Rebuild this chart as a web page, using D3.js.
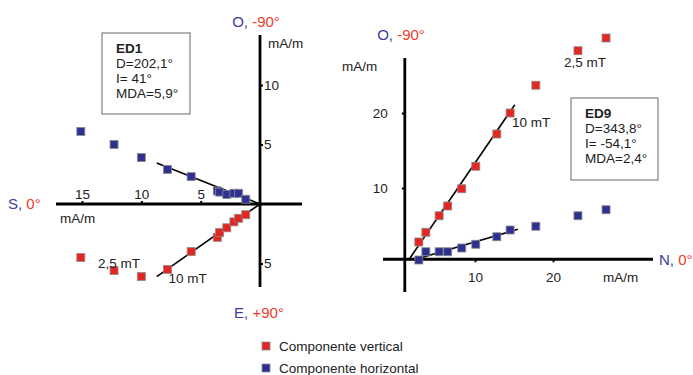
<!DOCTYPE html>
<html>
<head>
<meta charset="utf-8">
<script src="https://cdn.jsdelivr.net/npm/d3@7"></script>
<style>
  body { margin: 0; background: #fff; }
  text { font-family: "Liberation Sans", Arial, sans-serif; }
</style>
</head>
<body>
<script>
// ED1 (left diagram), N-S component (S positive) in mA/m
var ed1X = [15.1, 12.3, 10.0, 7.8, 5.8, 3.6, 3.4, 2.8, 2.2, 1.8, 1.2];
var ed1Horiz = [6.1, 5.0, 3.9, 2.9, 2.3, 1.1, 1.0, 0.8, 0.9, 0.9, 0.4];
var ed1Vert = [-4.5, -5.6, -6.1, -5.5, -4.0, -2.8, -2.4, -2.0, -1.5, -1.2, -0.9];
var ed1FitH = [[0, 0], [8.7, 3.45]];
var ed1FitV = [[0, 0], [8.7, -6.1]];
var ed1Info = ["ED1", "D=202,1°", "I= 41°", "MDA=5,9°"];

// ED9 (right diagram)
var ed9X = [2.8, 3.7, 5.4, 6.5, 8.3, 10.1, 12.8, 14.5, 17.8, 23.2, 26.8];
var ed9Vert = [2.8, 4.1, 6.3, 7.6, 9.9, 12.9, 17.2, 20.0, 23.7, 28.3, 30.0];
var ed9Horiz = [0.4, 1.5, 1.5, 1.5, 2.0, 2.5, 3.5, 4.4, 4.9, 6.3, 7.1];
var ed9FitV = [[1.5, 0.4], [15.1, 21.1]];
var ed9FitH = [[2.1, 0.4], [15.5, 4.5]];
var ed9Info = ["ED9", "D=343,8°", "I= -54,1°", "MDA=2,4°"];

var legendLabels = ["Componente vertical", "Componente horizontal"];

var RED = "#e52521", BLUE = "#2f3192", TXT_BLUE = "#3c3ca0", TXT_RED = "#ee3b2e";

var svg = d3.select("body").append("svg")
    .attr("width", 693)
    .attr("height", 375);

var line = d3.line();

function square(g, pts, color) {
  g.selectAll(null)
    .data(pts)
    .enter()
    .append("rect")
    .attr("x", function(d) { return d[0] - 4; })
    .attr("y", function(d) { return d[1] - 4; })
    .attr("width", 8)
    .attr("height", 8)
    .attr("fill", color)
    .attr("stroke", "#8a8a8a")
    .attr("stroke-width", 0.8);
}

function fitLine(g, pts, xs, ys) {
  g.append("path")
    .attr("d", line(pts.map(function(d) { return [xs(d[0]), ys(d[1])]; })))
    .attr("stroke", "#000").attr("stroke-width", 1.6).attr("fill", "none");
}

function infoBox(x, y, w, h, lines) {
  svg.append("rect")
    .attr("x", x).attr("y", y).attr("width", w).attr("height", h)
    .attr("fill", "#fff").attr("stroke", "#808080").attr("stroke-width", 1.2);
  svg.selectAll(null)
    .data(lines)
    .enter()
    .append("text")
    .attr("x", x + 14)
    .attr("y", function(d, i) { return y + 20 + i * 15; })
    .attr("font-size", 13.5)
    .attr("font-weight", function(d, i) { return i == 0 ? "bold" : "normal"; })
    .attr("fill", "#222")
    .text(function(d) { return d; });
}

function label(x, y, s) {
  svg.append("text").attr("x", x).attr("y", y)
    .attr("font-size", 13.5).attr("fill", "#222").text(s);
}

function dirLabel(x, y, a, b, anchor) {
  var t = svg.append("text")
    .attr("x", x).attr("y", y)
    .attr("font-size", 15)
    .attr("text-anchor", anchor || "start");
  t.append("tspan").attr("fill", TXT_BLUE).text(a);
  t.append("tspan").attr("fill", TXT_RED).text(b);
}

function styleAxis(a) {
  a.select(".domain").remove();
  a.selectAll("line").attr("stroke", "#000").attr("stroke-width", 2);
  a.selectAll("text").attr("font-size", 13.5).attr("fill", "#222")
    .style("font-family", "Liberation Sans, Arial, sans-serif");
}

// ---------- left diagram ----------
var xL = d3.scaleLinear().domain([0, 15]).range([260, 82]);
var yL = d3.scaleLinear().domain([0, 10]).range([204, 85]);
var left = svg.append("g");

fitLine(left, ed1FitH, xL, yL);
fitLine(left, ed1FitV, xL, yL);

left.append("line").attr("x1", 56).attr("x2", 302).attr("y1", yL(0)).attr("y2", yL(0))
  .attr("stroke", "#000").attr("stroke-width", 2.8);
left.append("line").attr("x1", xL(0)).attr("x2", xL(0)).attr("y1", 35).attr("y2", 287)
  .attr("stroke", "#000").attr("stroke-width", 2.8);

var axL1 = left.append("g").attr("transform", "translate(0," + yL(0) + ")")
  .call(d3.axisTop(xL).tickValues([5, 10, 15]).tickSize(3).tickPadding(2));
var axL2 = left.append("g").attr("transform", "translate(" + xL(0) + ",0)")
  .call(d3.axisRight(yL).tickValues([-5, 5, 10]).tickSize(3).tickPadding(1)
    .tickFormat(function(d) { return Math.abs(d); }));
styleAxis(axL1);
styleAxis(axL2);

square(left, ed1X.map(function(d, i) { return [xL(d), yL(ed1Horiz[i])]; }), BLUE);
square(left, ed1X.map(function(d, i) { return [xL(d), yL(ed1Vert[i])]; }), RED);

label(60, 223, "mA/m");
label(268, 48, "mA/m");
label(xL(ed1X[1]) - 16, yL(ed1Vert[0]) + 10, "2,5 mT");
label(xL(ed1X[3]) + 1, yL(ed1Vert[3]) + 14, "10 mT");

dirLabel(256, 27, "O, ", "-90°", "middle");
dirLabel(8, 209, "S, ", "0°");
dirLabel(259, 318, "E, ", "+90°", "middle");

infoBox(102, 33, 88, 81, ed1Info);

// ---------- right diagram ----------
var xR = d3.scaleLinear().domain([0, 20]).range([397, 553]);
var yR = d3.scaleLinear().domain([0, 20]).range([263, 113]);
var right = svg.append("g");
var ax0 = xR(1), ay0 = yR(0.5);

fitLine(right, ed9FitV, xR, yR);
fitLine(right, ed9FitH, xR, yR);

right.append("line").attr("x1", 383).attr("x2", 653).attr("y1", ay0).attr("y2", ay0)
  .attr("stroke", "#000").attr("stroke-width", 2.8);
right.append("line").attr("x1", ax0).attr("x2", ax0).attr("y1", 58).attr("y2", 292)
  .attr("stroke", "#000").attr("stroke-width", 2.8);

var axR1 = right.append("g").attr("transform", "translate(0," + ay0 + ")")
  .call(d3.axisBottom(xR).tickValues([10, 20]).tickSize(3).tickPadding(10));
var axR2 = right.append("g").attr("transform", "translate(" + ax0 + ",0)")
  .call(d3.axisLeft(yR).tickValues([10, 20]).tickSize(3).tickPadding(14));
styleAxis(axR1);
styleAxis(axR2);
axR2.selectAll("line").attr("x2", 0).attr("x1", -3);

square(right, ed9X.map(function(d, i) { return [xR(d), yR(ed9Horiz[i])]; }), BLUE);
square(right, ed9X.map(function(d, i) { return [xR(d), yR(ed9Vert[i])]; }), RED);

label(342, 71, "mA/m");
label(603, 282, "mA/m");
label(xR(ed9X[9]) - 14, yR(ed9Vert[9]) + 16, "2,5 mT");
label(xR(ed9X[7]) + 2, yR(ed9Vert[7]) + 14, "10 mT");

dirLabel(401, 40, "O, ", "-90°", "middle");
dirLabel(659, 265, "N, ", "0°");

infoBox(571, 98, 87, 82, ed9Info);

// ---------- legend ----------
var legend = svg.append("g").selectAll("g")
  .data(legendLabels)
  .enter()
  .append("g")
  .attr("transform", function(d, i) { return "translate(266," + (346 + i * 22) + ")"; });
legend.append("rect")
  .attr("x", -4).attr("y", -4).attr("width", 8).attr("height", 8)
  .attr("fill", function(d, i) { return i == 0 ? RED : BLUE; })
  .attr("stroke", "#8a8a8a").attr("stroke-width", 0.8);
legend.append("text")
  .attr("x", 13).attr("y", 4.5)
  .attr("font-size", 13.5).attr("fill", "#222")
  .text(function(d) { return d; });
</script>
</body>
</html>
